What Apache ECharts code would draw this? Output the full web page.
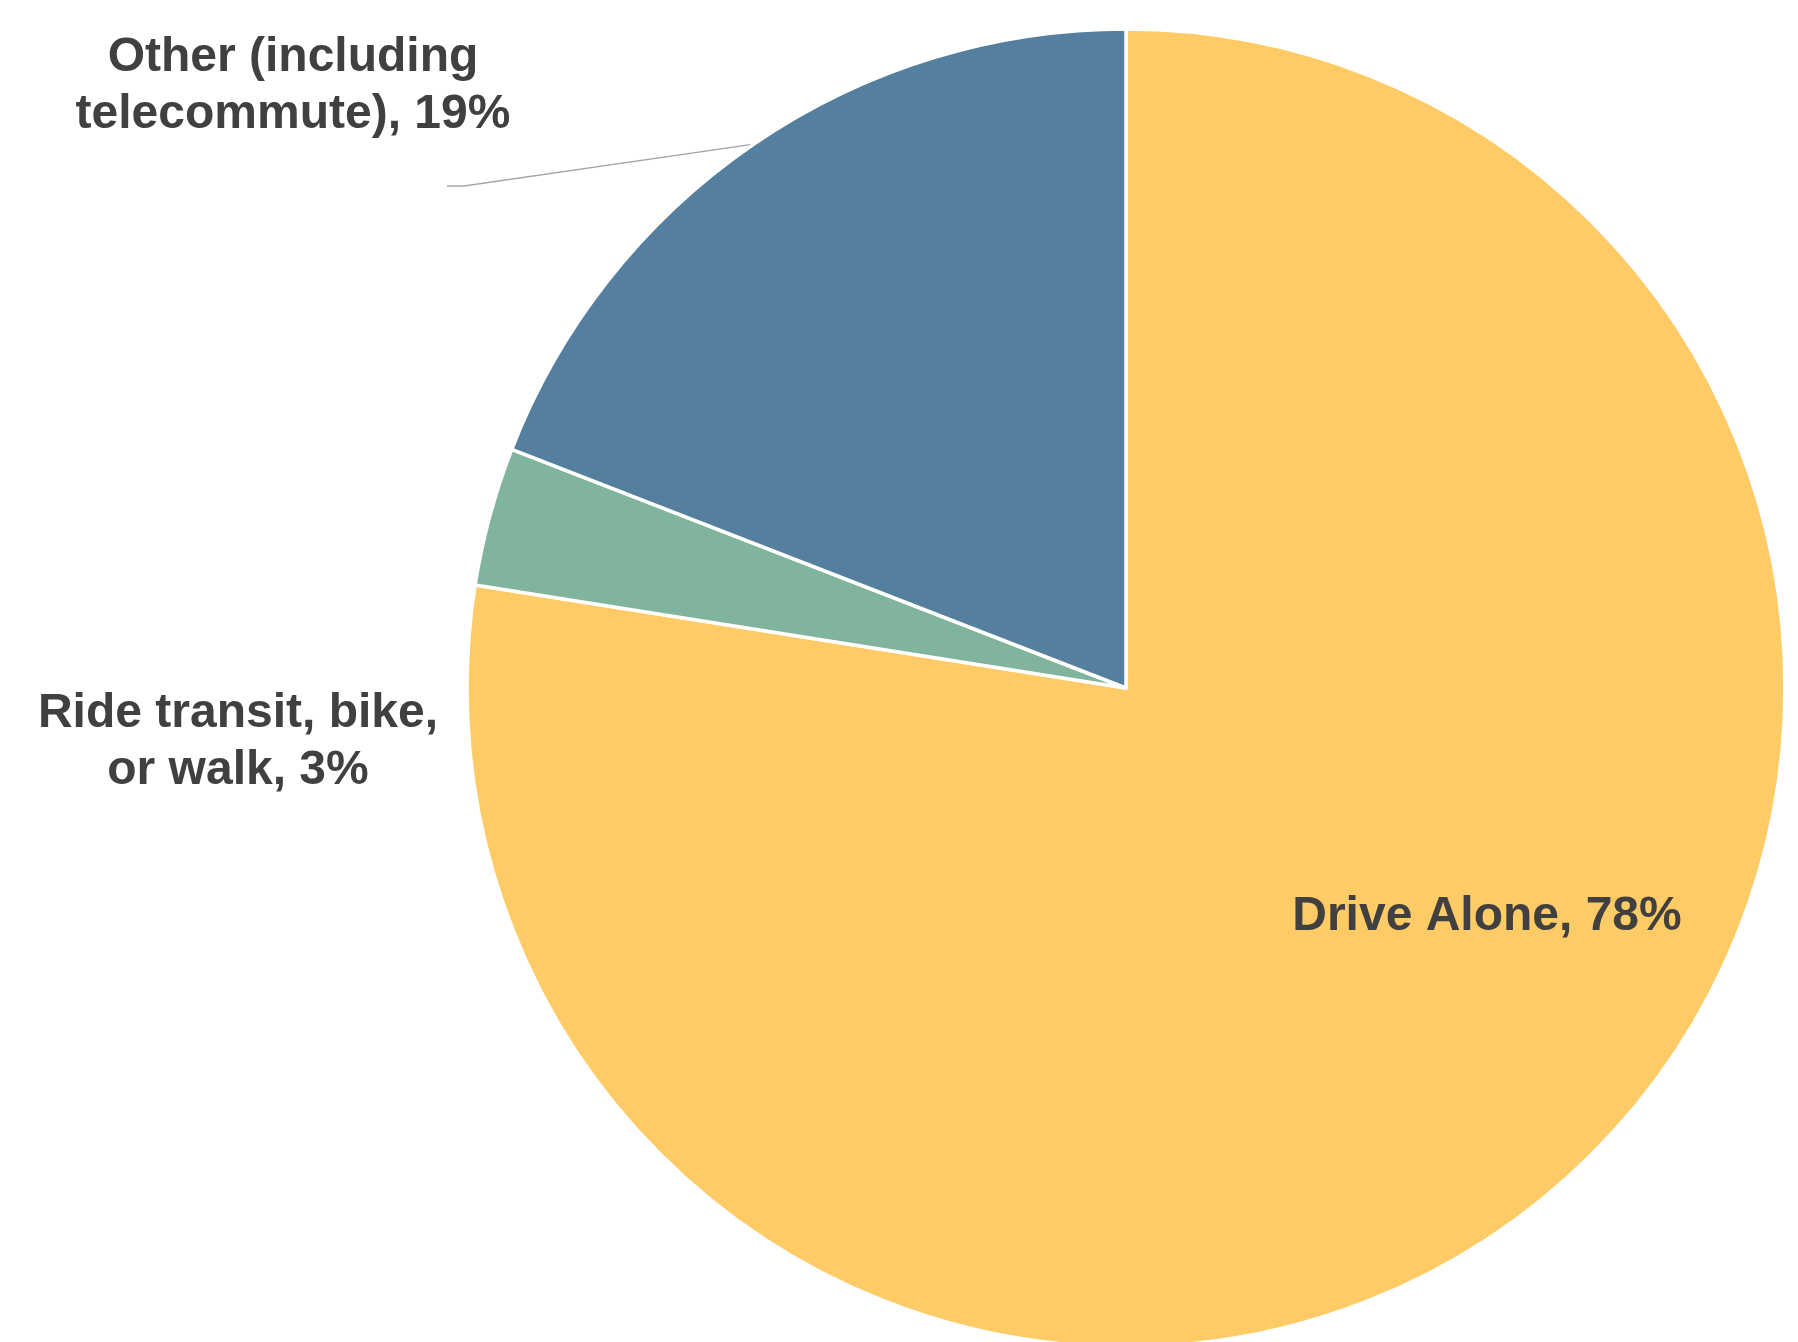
<!DOCTYPE html>
<html>
<head>
    <meta charset="utf-8">
    <title>Commute mode share</title>
    <style>
        html, body { margin: 0; padding: 0; background: #ffffff; }
        #chart { width: 1798px; height: 1342px; }
    </style>
</head>
<body>
<div id="chart"></div>

<script src="https://cdn.jsdelivr.net/npm/echarts@6/dist/echarts.min.js"></script>
<script>
    // data (share of commuters, %)
    var modeNames = ['Drive Alone', 'Ride transit, bike,\nor walk', 'Other (including\ntelecommute)'];
    var modeShares = [77.5, 3.4, 19.1];
    var modeColors = ['#fecb66', '#81b49d', '#547f9f'];

    // where each label sits (px), Excel-style manual placement
    var labelPos = [
        {x: 1487, y: 917},
        {x: 238, y: 742},
        {x: 293, y: 86}
    ];

    var myChart = echarts.init(document.getElementById('chart'), null, {renderer: 'canvas'});

    var pieData = modeNames.map(function (n, i) {
        return {
            name: n,
            value: modeShares[i],
            itemStyle: {color: modeColors[i]},
            label: {position: i === 0 ? 'inside' : 'outside'},
            labelLine: {show: i === 2}
        };
    });

    var option = {
        animation: false,
        backgroundColor: '#ffffff',
        series: [
            {
                type: 'pie',
                center: [1126, 688],
                radius: 659,
                startAngle: 90,
                clockwise: true,
                avoidLabelOverlap: false,
                data: pieData,
                itemStyle: {
                    borderColor: '#ffffff',
                    borderWidth: 3.5
                },
                label: {
                    show: true,
                    formatter: function (p) {
                        return p.name + ', ' + Math.round(p.value) + '%';
                    },
                    color: '#404040',
                    fontFamily: '"Liberation Sans", Arial, sans-serif',
                    fontWeight: 'bold',
                    fontSize: 48,
                    lineHeight: 57,
                    align: 'center'
                },
                labelLine: {
                    length: 20,
                    length2: 20,
                    smooth: false,
                    lineStyle: {color: '#a6a6a6', width: 1.5}
                },
                labelLayout: function (params) {
                    var pos = labelPos[params.dataIndex];
                    var out = {
                        x: pos.x,
                        y: pos.y,
                        align: 'center',
                        verticalAlign: 'middle'
                    };
                    if (params.dataIndex === 2 && params.labelLinePoints) {
                        var edge = params.labelLinePoints[0];
                        out.labelLinePoints = [
                            [edge[0], edge[1]],
                            [464, 186],
                            [447, 186]
                        ];
                    }
                    return out;
                }
            }
        ]
    };
    myChart.setOption(option);
</script>
</body>
</html>
